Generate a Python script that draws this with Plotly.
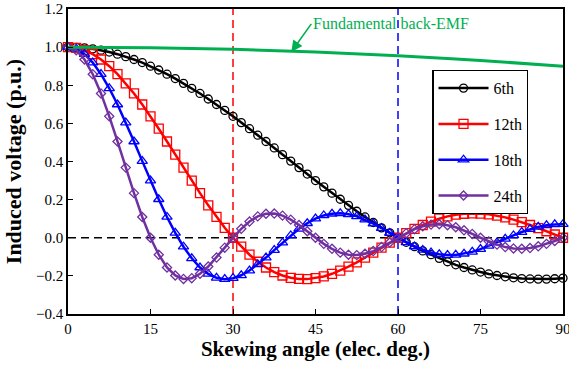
import plotly.graph_objects as go

# Skewing angle (elec. deg.), step 1.5
angle = [i * 1.5 for i in range(61)]

h6 = [1.000, 0.999, 0.996, 0.991, 0.984, 0.974, 0.963, 0.950, 0.935, 0.919,
      0.900, 0.880, 0.858, 0.835, 0.810, 0.784, 0.757, 0.728, 0.699, 0.668,
      0.637, 0.604, 0.572, 0.538, 0.505, 0.471, 0.436, 0.402, 0.368, 0.334,
      0.300, 0.267, 0.234, 0.202, 0.170, 0.139, 0.109, 0.080, 0.052, 0.026,
      0.000, -0.024, -0.047, -0.069, -0.089, -0.108, -0.126, -0.142, -0.156, -0.169,
      -0.180, -0.190, -0.198, -0.205, -0.210, -0.214, -0.216, -0.217, -0.217, -0.215,
      -0.212]

h12 = [1.000, 0.996, 0.984, 0.963, 0.935, 0.900, 0.858, 0.810, 0.757, 0.699,
       0.637, 0.572, 0.505, 0.436, 0.368, 0.300, 0.234, 0.170, 0.109, 0.052,
       0.000, -0.047, -0.089, -0.126, -0.156, -0.180, -0.198, -0.210, -0.216, -0.217,
       -0.212, -0.203, -0.189, -0.172, -0.151, -0.129, -0.104, -0.078, -0.052, -0.026,
       0.000, 0.024, 0.047, 0.067, 0.085, 0.100, 0.112, 0.121, 0.126, 0.128,
       0.127, 0.123, 0.116, 0.107, 0.095, 0.082, 0.067, 0.051, 0.034, 0.017,
       0.000]

h18 = [1.000, 0.991, 0.963, 0.919, 0.858, 0.784, 0.699, 0.604, 0.505, 0.402,
       0.300, 0.202, 0.109, 0.026, -0.047, -0.108, -0.156, -0.190, -0.210, -0.217,
       -0.212, -0.197, -0.172, -0.140, -0.104, -0.065, -0.026, 0.012, 0.047, 0.076,
       0.100, 0.117, 0.126, 0.128, 0.123, 0.112, 0.095, 0.074, 0.051, 0.025,
       0.000, -0.024, -0.046, -0.064, -0.078, -0.087, -0.091, -0.090, -0.084, -0.074,
       -0.060, -0.043, -0.025, -0.006, 0.012, 0.030, 0.045, 0.057, 0.065, 0.070,
       0.071]

h24 = [1.000, 0.984, 0.935, 0.858, 0.757, 0.637, 0.505, 0.368, 0.234, 0.109,
       0.000, -0.089, -0.156, -0.198, -0.216, -0.212, -0.189, -0.151, -0.104, -0.052,
       0.000, 0.047, 0.085, 0.112, 0.126, 0.127, 0.116, 0.095, 0.067, 0.034,
       0.000, -0.032, -0.058, -0.078, -0.089, -0.091, -0.084, -0.070, -0.049, -0.025,
       0.000, 0.024, 0.045, 0.060, 0.069, 0.071, 0.066, 0.055, 0.039, 0.020,
       0.000, -0.019, -0.036, -0.049, -0.056, -0.058, -0.054, -0.045, -0.032, -0.017,
       0.000]

fund_angle = [0, 15, 30, 45, 60, 75, 90]
fund = [1.000, 0.997, 0.989, 0.975, 0.955, 0.930, 0.900]

ref_x = [30, 60]
ref_colors = ["#FF0000", "#0000FF"]
x_ticks = [0, 15, 30, 45, 60, 75, 90]

series = [
    ("6th", h6, "#000000", "circle-open", 8),
    ("12th", h12, "#FF0000", "square-open", 9),
    ("18th", h18, "#0000FF", "triangle-up-open", 9),
    ("24th", h24, "#7030A0", "diamond-open", 7),
]

FONT = "Liberation Serif, Times New Roman, Times, serif"
fig = go.Figure()

# reference dashed lines
fig.add_trace(go.Scatter(x=[0, 90], y=[0, 0], mode="lines",
                         line=dict(color="black", width=1.5, dash="8px,5px"),
                         showlegend=False, hoverinfo="skip"))
for xv, c in zip(ref_x, ref_colors):
    fig.add_trace(go.Scatter(x=[xv, xv], y=[-0.4, 1.2], mode="lines",
                             line=dict(color=c, width=1.5, dash="8px,5px"),
                             showlegend=False, hoverinfo="skip", cliponaxis=False))

for i, (name, ys, col, sym, sz) in enumerate(series):
    fig.add_trace(go.Scatter(
        x=angle, y=ys, mode="lines+markers", name=name,
        line=dict(color=col, width=2.5),
        marker=dict(symbol=sym, size=sz, color=col, line=dict(color=col, width=1.3)),
        cliponaxis=False, legendgroup=name))

fig.add_trace(go.Scatter(x=fund_angle, y=fund, mode="lines", line=dict(color="#00B050", width=3, shape="spline"),
                         showlegend=False, cliponaxis=False))

fig.add_annotation(x=40.6, y=0.975, xref="x", yref="y", ax=20, ay=-28,
                   text="Fundamental back-EMF", showarrow=True, arrowhead=2,
                   arrowsize=1.4, arrowwidth=1.6, arrowcolor="#00B050",
                   xanchor="left", yanchor="middle",
                   font=dict(family=FONT, size=16, color="#00B050"))

fig.update_layout(
    width=569, height=366,
    margin=dict(l=68, r=6, t=9, b=52),
    paper_bgcolor="white", plot_bgcolor="white",
    font=dict(family=FONT, size=15, color="black"),
    legend=dict(x=0.736, y=0.800, xanchor="left", yanchor="top",
                bordercolor="black", borderwidth=1.2, bgcolor="white",
                font=dict(family=FONT, size=16), tracegroupgap=12,
                traceorder="grouped", itemwidth=50),
)
fig.update_xaxes(range=[0, 90], tickvals=x_ticks, ticks="inside", ticklen=5,
                 tickcolor="black", showline=True, mirror=True, linecolor="black",
                 linewidth=1.5, showgrid=False, zeroline=False,
                 ticklabeloverflow="allow", automargin=False,
                 tickfont=dict(family=FONT, size=15),
                 title=dict(text="<b>Skewing angle (elec. deg.)</b>",
                            font=dict(family=FONT, size=21), standoff=4))
fig.update_yaxes(range=[-0.4, 1.2], dtick=0.2, tickformat=".1f", ticks="inside",
                 ticklen=5, tickcolor="black", showline=True, mirror=True,
                 linecolor="black", linewidth=1.5, showgrid=False, zeroline=False,
                 automargin=False,
                 tickfont=dict(family=FONT, size=15),
                 title=dict(text="<b>Induced voltage (p.u.)</b>",
                            font=dict(family=FONT, size=22), standoff=8))

fig.write_html("out.html")
